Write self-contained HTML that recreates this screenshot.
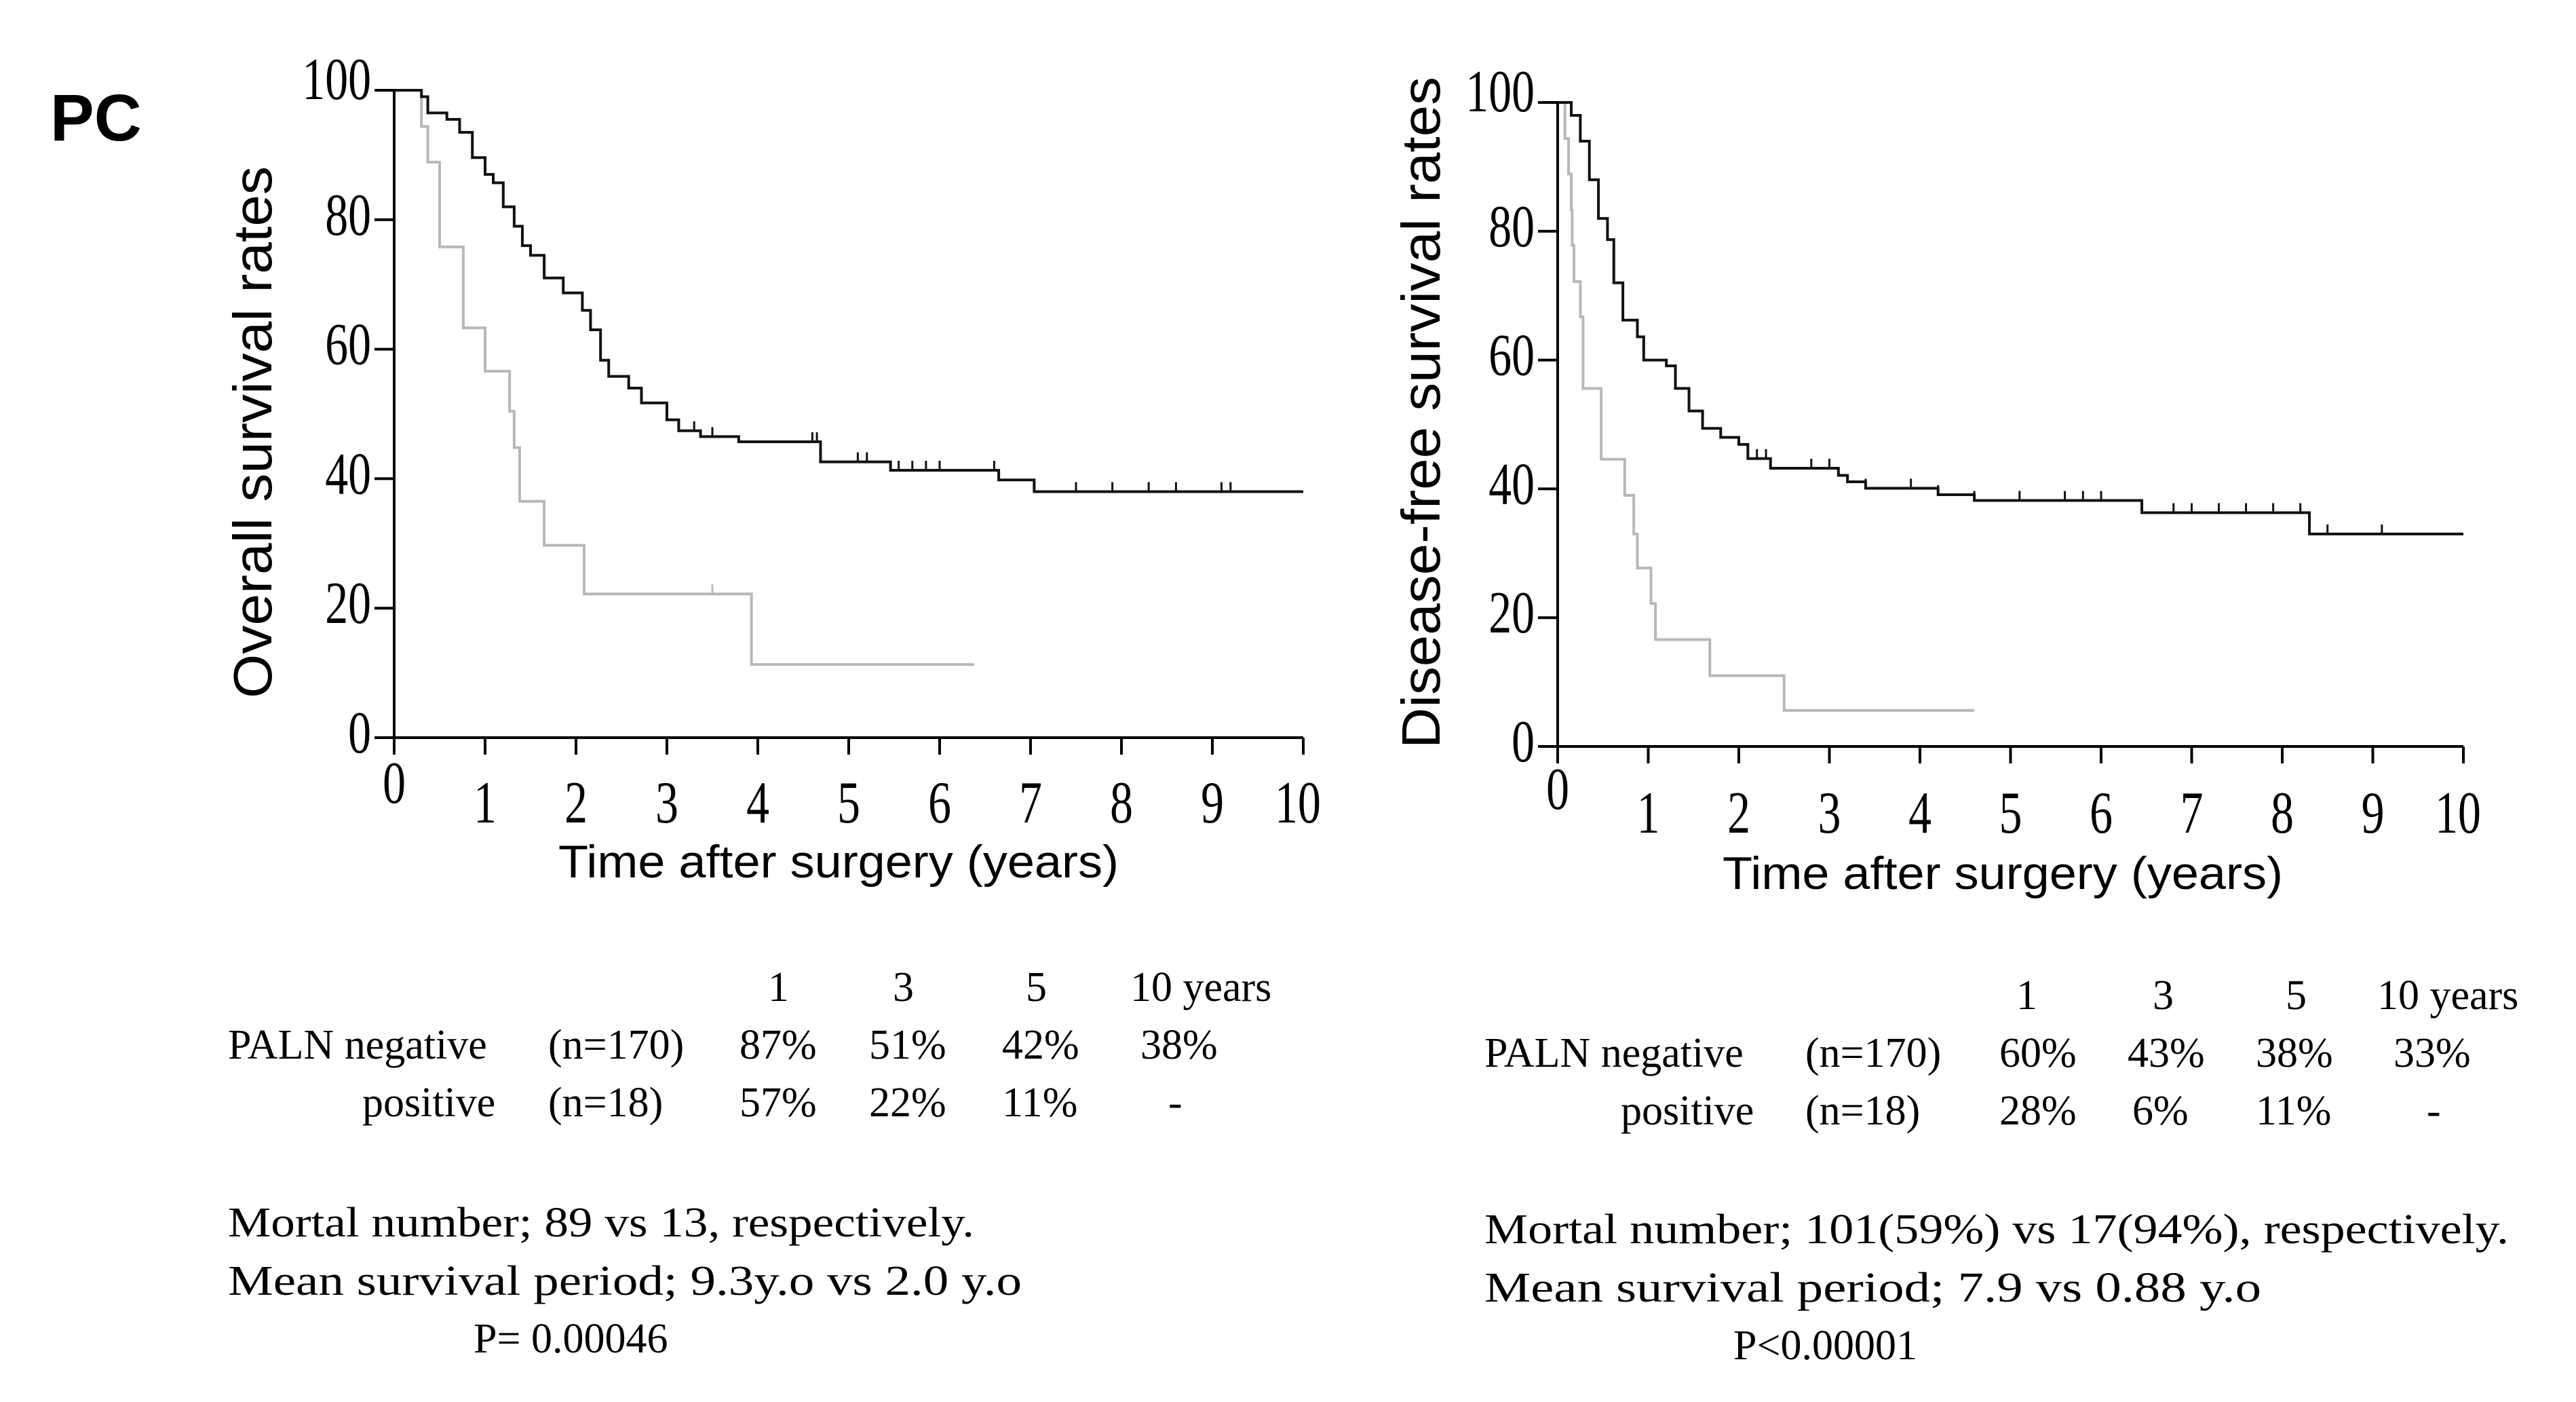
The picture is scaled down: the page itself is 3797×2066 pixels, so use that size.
<!DOCTYPE html>
<html><head><meta charset="utf-8"><style>
html,body{margin:0;padding:0;background:#fff;width:3797px;height:2066px;overflow:hidden}
svg{display:block}
.tk{font-family:"Liberation Serif",serif;font-size:88px;fill:#000}
.ttl{font-family:"Liberation Sans",sans-serif;fill:#000}
.tb{font-family:"Liberation Serif",serif;font-size:62px;fill:#000;white-space:pre}
</style></head><body>
<svg id="fig" width="3797" height="2066" viewBox="0 0 3797 2066" xmlns="http://www.w3.org/2000/svg">
<text x="74" y="207" class="ttl" font-size="97" font-weight="bold">PC</text>
<g id="left"></g>
<g id="right"></g>
<g class="tb">
<text x="1132" y="1475">1</text><text x="1316" y="1475">3</text><text x="1512" y="1475">5</text><text x="1666" y="1475">10 years</text>
<text x="336" y="1560">PALN negative</text><text x="808" y="1560">(n=170)</text>
<text x="1090" y="1560">87%</text><text x="1281" y="1560">51%</text><text x="1477" y="1560">42%</text><text x="1681" y="1560">38%</text>
<text x="534" y="1645">positive</text><text x="808" y="1645">(n=18)</text>
<text x="1090" y="1645">57%</text><text x="1281" y="1645">22%</text><text x="1477" y="1645">11%</text><text x="1722" y="1645">-</text>
<text x="336" y="1822" textLength="1100" lengthAdjust="spacingAndGlyphs">Mortal number;  89 vs 13, respectively.</text>
<text x="336" y="1908" textLength="1170" lengthAdjust="spacingAndGlyphs">Mean survival  period;  9.3y.o vs  2.0 y.o</text>
<text x="698" y="1993">P= 0.00046</text>
</g>
<g class="tb">
<text x="2972" y="1487">1</text><text x="3173" y="1487">3</text><text x="3369" y="1487">5</text><text x="3504" y="1487">10 years</text>
<text x="2188" y="1572">PALN negative</text><text x="2661" y="1572">(n=170)</text>
<text x="2947" y="1572">60%</text><text x="3136" y="1572">43%</text><text x="3325" y="1572">38%</text><text x="3528" y="1572">33%</text>
<text x="2389" y="1657">positive</text><text x="2661" y="1657">(n=18)</text>
<text x="2947" y="1657">28%</text><text x="3143" y="1657">6%</text><text x="3325" y="1657">11%</text><text x="3577" y="1657">-</text>
<text x="2188" y="1832" textLength="1510" lengthAdjust="spacingAndGlyphs">Mortal number;  101(59%) vs 17(94%), respectively.</text>
<text x="2188" y="1918" textLength="1145" lengthAdjust="spacingAndGlyphs">Mean survival  period;  7.9  vs  0.88 y.o</text>
<text x="2555" y="2003">P&lt;0.00001</text>
</g>
</svg>
<script>
// ---- data: overall survival (left) ----
const osNegTimes = [0.3, 0.37, 0.58, 0.72, 0.86, 1.0, 1.09, 1.2, 1.32, 1.41, 1.5, 1.65, 1.86, 2.07, 2.16, 2.27, 2.36, 2.58, 2.72, 3.0, 3.13, 3.37, 3.79, 4.69, 5.46, 6.65, 7.04];
const osNegValues = [99, 96.5, 95.5, 93.5, 89.6, 87, 85.7, 82, 79, 76, 74.5, 71, 68.7, 66, 63, 58.3, 55.8, 54, 51.7, 49.1, 47.4, 46.5, 45.7, 42.6, 41.3, 39.8, 38];
const osNegEnd = 10;
const osNegCensor = [3.3, 3.5, 4.6, 4.65, 5.1, 5.2, 5.55, 5.7, 5.85, 6.0, 6.6, 7.5, 7.9, 8.3, 8.6, 9.1, 9.2];
const osPosTimes = [0.3, 0.37, 0.5, 0.76, 1.0, 1.27, 1.32, 1.38, 1.65, 2.09, 3.93];
const osPosValues = [94.4, 88.9, 75.8, 63.3, 56.6, 50.4, 44.8, 36.5, 29.7, 22.2, 11.3];
const osPosEnd = 6.38;
const osPosCensor = [3.5];
// ---- data: disease-free survival (right) ----
const dfsNegTimes = [0.15, 0.25, 0.35, 0.45, 0.55, 0.62, 0.72, 0.88, 0.95, 1.2, 1.3, 1.45, 1.6, 1.8, 2.0, 2.1, 2.35, 3.1, 3.2, 3.4, 4.2, 4.6, 6.45, 8.3];
const dfsNegValues = [98, 94, 88, 82, 78.7, 72, 66.2, 63.6, 60, 59.1, 55.6, 52.1, 49.4, 48, 46.9, 44.7, 43.2, 42.1, 41.1, 40.1, 39.1, 38.2, 36.3, 33];
const dfsNegEnd = 10;
const dfsNegCensor = [2.2, 2.3, 2.8, 3.0, 3.4, 3.9, 4.2, 4.6, 5.1, 5.6, 5.8, 6.0, 6.8, 7.0, 7.3, 7.6, 7.9, 8.2, 8.5, 9.1];
const dfsPosTimes = [0.08, 0.12, 0.15, 0.16, 0.18, 0.25, 0.28, 0.48, 0.74, 0.84, 0.88, 1.03, 1.08, 1.68, 2.5];
const dfsPosValues = [94.4, 88.9, 83.3, 77.8, 72.2, 66.7, 55.6, 44.6, 39, 33, 27.7, 22.2, 16.6, 11, 5.6];
const dfsPosEnd = 4.6;
const dfsPosCensor = [];
const xTicks = [0,1,2,3,4,5,6,7,8,9,10];
const yTicks = [0,20,40,60,80,100];

const NS = "http://www.w3.org/2000/svg";
function mk(parent, tag, attrs){const e=document.createElementNS(NS,tag);for(const k in attrs)e.setAttribute(k,attrs[k]);parent.appendChild(e);return e;}

function chart(g, cfg){
  const sx = t => cfg.x0 + (cfg.x1-cfg.x0)*t/10;
  const sy = v => cfg.y0 - (cfg.y0-cfg.y100)*v/100;
  const ax = mk(g,'path',{d:`M${sx(0)},${sy(100)}V${sy(0)}H${sx(10)}`,fill:'none',stroke:'#000','stroke-width':4});
  
  
  yTicks.forEach(v=>{
    const t = mk(g,'line',{x1:sx(0)-29,x2:sx(0),y1:sy(v),y2:sy(v),stroke:'#000','stroke-width':4});
    
    
    const yy = sy(v) + (v===100?-9:0) + 22;
    const lb = mk(g,'text',{class:'tk','text-anchor':'end',transform:`translate(${sx(0)-34},${yy}) scale(0.77,1)`});
    lb.textContent = v;
    
    
  });
  xTicks.forEach(v=>{
    const t = mk(g,'line',{x1:sx(v),x2:sx(v),y1:sy(0),y2:sy(0)+25,stroke:'#000','stroke-width':4});
    
    
    const cy = v===0 ? cfg.zeroY : cfg.lblY;
    const lb = mk(g,'text',{class:'tk','text-anchor':'middle',transform:`translate(${sx(v)-(v===10?8:0)},${cy+29}) scale(0.77,1)`});
    lb.textContent = v;
    
    
  });
  function curve(times, vals, end, censor, color, name){
    let d = `M${sx(0)},${sy(100)}`;
    times.forEach((t,i)=>{ d += `H${sx(t)}V${sy(vals[i])}`; });
    d += `H${sx(end)}`;
    const p = mk(g,'path',{d:d,fill:'none',stroke:color,'stroke-width':4});
    
    
    censor.forEach(c=>{
      let v = 100; times.forEach((t,i)=>{ if(t<=c) v = vals[i]; });
      const m = mk(g,'line',{x1:sx(c),x2:sx(c),y1:sy(v)-14,y2:sy(v),stroke:color,'stroke-width':3});
      
      
    });
  }
  curve(cfg.pt, cfg.pv, cfg.pe, cfg.pc, '#b8b8b8', 'paln-positive-curve');
  curve(cfg.nt, cfg.nv, cfg.ne, cfg.nc, '#111', 'paln-negative-curve');
  const yt = mk(g,'text',{class:'ttl','font-size':80,'text-anchor':'middle',transform:`translate(${cfg.ytx},${cfg.yty}) rotate(-90)`,textLength:cfg.ytl,lengthAdjust:'spacingAndGlyphs'});
  yt.textContent = cfg.ytitle;
  
  
  const xt = mk(g,'text',{class:'ttl','font-size':68,'text-anchor':'middle',x:cfg.xtx,y:cfg.xty,textLength:826,lengthAdjust:'spacingAndGlyphs'});
  xt.textContent = 'Time after surgery (years)';
  
  
}
chart(document.getElementById('left'),{x0:581,x1:1921,y0:1087,y100:133,zeroY:1154,lblY:1183,
  nt:osNegTimes,nv:osNegValues,ne:osNegEnd,nc:osNegCensor,pt:osPosTimes,pv:osPosValues,pe:osPosEnd,pc:osPosCensor,
  ytitle:'Overall survival rates',ytx:400,yty:637,ytl:784,xtx:1236,xty:1293});
chart(document.getElementById('right'),{x0:2296,x1:3631,y0:1100,y100:151,zeroY:1163,lblY:1198,
  nt:dfsNegTimes,nv:dfsNegValues,ne:dfsNegEnd,nc:dfsNegCensor,pt:dfsPosTimes,pv:dfsPosValues,pe:dfsPosEnd,pc:dfsPosCensor,
  ytitle:'Disease-free survival rates',ytx:2122,yty:608,ytl:990,xtx:2952,xty:1310});
</script>
</body></html>
